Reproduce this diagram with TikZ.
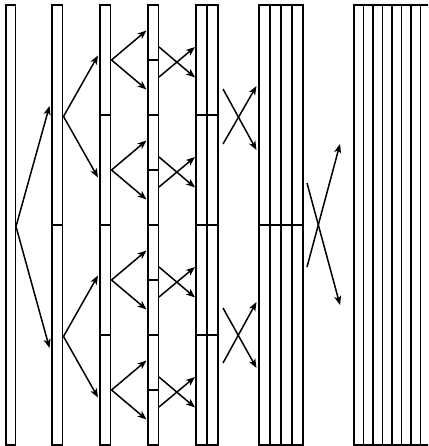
\documentclass[tikz,border=0pt]{standalone}
\usetikzlibrary{arrows.meta}
\begin{document}
\begin{tikzpicture}[x=1pt,y=-1pt,
  strip/.style={draw=black,line width=1.5pt},
  arr/.style={line width=1.5pt,-{Stealth[length=9pt,width=7pt,inset=2.4pt]}}]
\useasboundingbox (0,0) rectangle (428,446);
\clip (0,0) rectangle (428,446);
% ---------- strips ----------
% column 1: one block
\draw[strip] (6,5) rectangle (15.5,445);
% column 2: two blocks
\foreach \k in {0,1}
  \draw[strip] (52,{5+220*\k}) rectangle (62.5,{225+220*\k});
% column 3: four blocks
\foreach \k in {0,...,3}
  \draw[strip] (100,{5+110*\k}) rectangle (110.5,{115+110*\k});
% column 4: eight blocks
\foreach \k in {0,...,7}
  \draw[strip] (148,{5+55*\k}) rectangle (158.5,{60+55*\k});
% column 5: four blocks, two strips
\foreach \k in {0,...,3}
  \foreach \s in {0,1}
    \draw[strip] ({196+11*\s},{5+110*\k}) rectangle ({207+11*\s},{115+110*\k});
% column 6: two blocks, four strips
\foreach \k in {0,1}
  \foreach \s in {0,...,3}
    \draw[strip] ({259+11*\s},{5+220*\k}) rectangle ({270+11*\s},{225+220*\k});
% column 7: one block, eight strips
\foreach \s in {0,...,7}
  \draw[strip] ({354+9.5*\s},5) rectangle ({363.5+9.5*\s},445);
% ---------- arrows ----------
% column 1 -> column 2
\coordinate (c1) at (16,226.5);
\coordinate (c1u) at (49.5,106);
\coordinate (c1d) at (49.5,348);
\draw[arr] (c1) -- (c1u);
\draw[arr] (c1) -- (c1d);
% column 2 -> column 3
\foreach \k in {0,1}{
  \coordinate (c2s\k) at (63.5,{116.5+220*\k});
  \coordinate (c2u\k) at (98,{55.5+220*\k});
  \coordinate (c2d\k) at (98,{177.5+220*\k});
  \draw[arr] (c2s\k) -- (c2u\k);
  \draw[arr] (c2s\k) -- (c2d\k);
}
% column 3 -> column 4
\foreach \k in {0,...,3}{
  \coordinate (c3s\k) at (111.5,{60+110*\k});
  \coordinate (c3u\k) at (146.5,{30.5+110*\k});
  \coordinate (c3d\k) at (146.5,{89.5+110*\k});
  \draw[arr] (c3s\k) -- (c3u\k);
  \draw[arr] (c3s\k) -- (c3d\k);
}
% column 4 -> column 5 (crossings)
\foreach \k in {0,...,3}{
  \coordinate (x4a\k) at (159,{47+110*\k});
  \coordinate (x4b\k) at (159,{77+110*\k});
  \coordinate (x4c\k) at (195,{47+110*\k});
  \coordinate (x4d\k) at (195,{77.5+110*\k});
  \draw[arr] (x4a\k) -- (x4d\k);
  \draw[arr] (x4b\k) -- (x4c\k);
}
% column 5 -> column 6 (crossings)
\foreach \k in {0,1}{
  \coordinate (x5a\k) at (223,{89+219*\k});
  \coordinate (x5b\k) at (223,{144+219*\k});
  \coordinate (x5c\k) at (256.5,{86+216*\k});
  \coordinate (x5d\k) at (256.5,{150+218*\k});
  \draw[arr] (x5a\k) -- (x5d\k);
  \draw[arr] (x5b\k) -- (x5c\k);
}
% column 6 -> column 7 (crossing)
\coordinate (x6a) at (307,183);
\coordinate (x6b) at (307,267);
\coordinate (x6c) at (340,144);
\coordinate (x6d) at (340,305);
\draw[arr] (x6a) -- (x6d);
\draw[arr] (x6b) -- (x6c);
\end{tikzpicture}
\end{document}
